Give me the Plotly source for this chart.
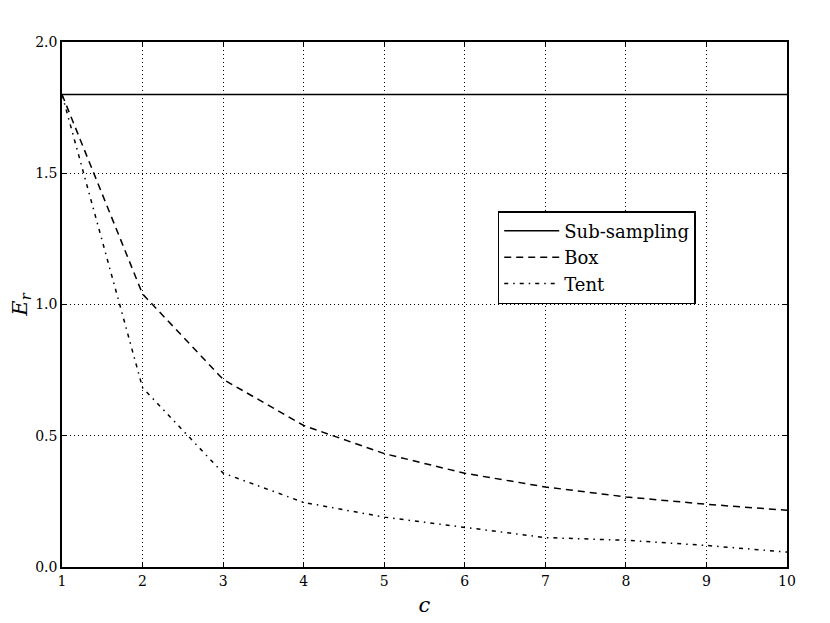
import plotly.graph_objects as go

c_values = [1, 2, 3, 4, 5, 6, 7, 8, 9, 10]
subsampling = [1.8, 1.8, 1.8, 1.8, 1.8, 1.8, 1.8, 1.8, 1.8, 1.8]
box = [1.8, 1.04, 0.715, 0.539, 0.432, 0.357, 0.305, 0.267, 0.239, 0.216]
tent = [1.8, 0.683, 0.358, 0.246, 0.19, 0.152, 0.112, 0.102, 0.082, 0.057]

x_ticks = [1, 2, 3, 4, 5, 6, 7, 8, 9, 10]
y_ticks = [0.0, 0.5, 1.0, 1.5, 2.0]

font_family = "DejaVu Serif, Liberation Serif, serif"

fig = go.Figure()
fig.add_trace(go.Scatter(x=c_values, y=subsampling, mode="lines", name="Sub-sampling",
                         line=dict(color="black", width=1.5, dash="solid")))
fig.add_trace(go.Scatter(x=c_values, y=box, mode="lines", name="Box",
                         line=dict(color="black", width=1.5, dash="7px,5px")))
fig.add_trace(go.Scatter(x=c_values, y=tent, mode="lines", name="Tent",
                         line=dict(color="black", width=1.5, dash="4px,5px,1.5px,5px")))

axis_common = dict(
    showline=True, linecolor="black", linewidth=1.5, mirror="ticks",
    ticks="inside", ticklen=5, tickcolor="black", tickwidth=1,
    showgrid=True, gridcolor="black", griddash="1px,3px", gridwidth=1,
    zeroline=False, automargin=False,
    tickfont=dict(family=font_family, size=14, color="black"),
)

fig.update_xaxes(range=[1, 10], tickvals=x_ticks, ticktext=[str(v) for v in x_ticks],
                 title=dict(text="<i>c</i>", font=dict(family=font_family, size=21, color="black"), standoff=10),
                 **axis_common)
fig.update_yaxes(range=[0, 2], tickvals=y_ticks, ticktext=[f"{v:.1f}" for v in y_ticks],
                 title=dict(text="<i>E</i><sub><i>r</i></sub>", font=dict(family=font_family, size=21, color="black"), standoff=12),
                 **axis_common)

fig.update_layout(
    width=830, height=623,
    margin=dict(l=54, r=51, t=34, b=64),
    plot_bgcolor="white", paper_bgcolor="white",
    font=dict(family=font_family, color="black"),
    legend=dict(x=0.601, y=0.678, xanchor="left", yanchor="top",
                bgcolor="white", bordercolor="black", borderwidth=1.5,
                font=dict(family=font_family, size=18, color="black"),
                itemwidth=55, tracegroupgap=0),
    showlegend=True,
)

fig.write_html("out.html")
